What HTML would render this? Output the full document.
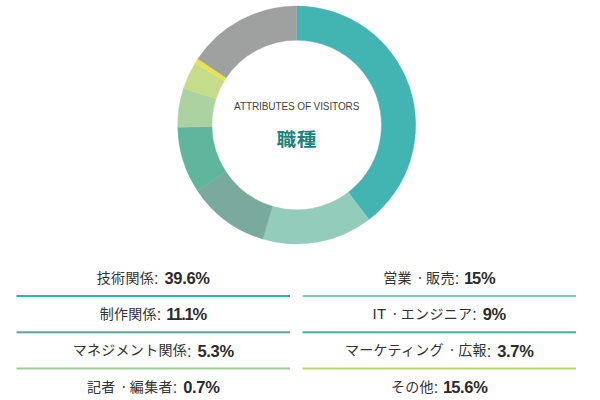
<!DOCTYPE html>
<html lang="ja"><head><meta charset="utf-8">
<style>
html,body{margin:0;padding:0;background:#fff;}
body{width:600px;height:400px;overflow:hidden;position:relative;font-family:"Liberation Sans","Noto Sans CJK JP",sans-serif;}
svg.bg{position:absolute;left:0;top:0;}
.t1{position:absolute;left:0;width:593.4px;top:101px;text-align:center;font-size:10px;color:#444;letter-spacing:-0.1px;}
.t2{position:absolute;left:-0.3px;width:593.4px;top:124px;text-align:center;font-size:19.6px;font-weight:bold;color:#17857e;letter-spacing:0.6px;text-indent:0.6px;transform:scaleY(0.93);transform-origin:50% 50%;}
.col{position:absolute;top:261px;width:273.5px;}
.col.l{left:16.5px;}
.col.r{left:302.5px;}
.row{height:36.45px;text-align:center;font-size:14px;line-height:34px;color:#333;white-space:nowrap;}
.row .n{position:relative;top:-1.5px;letter-spacing:.3px;}
.row .d{position:relative;top:-2px;left:1px;display:inline-block;width:14.3px;text-align:center;font-size:9px;letter-spacing:0;color:#444;}
.row .lt{font-size:15px;position:relative;top:0.5px;}
.row .c{font-size:16px;padding-right:1.5px;}
.row b{color:#2b2b2b;font-size:16.5px;letter-spacing:-0.3px;}
.row b .o{letter-spacing:-1.1px;margin-left:-1.1px;}
</style></head><body>
<svg class="bg" width="600" height="400" viewBox="0 0 600 400">
<path d="M296.70 6.00A119.0 119.0 0 0 1 369.04 219.48L348.25 192.33A84.8 84.8 0 0 0 296.70 40.20Z" fill="#42b4b1" stroke="#42b4b1" stroke-width="0.4"/>
<path d="M369.04 219.48A119.0 119.0 0 0 1 262.78 239.06L272.53 206.28A84.8 84.8 0 0 0 348.25 192.33Z" fill="#94ccbc" stroke="#94ccbc" stroke-width="0.4"/>
<path d="M262.78 239.06A119.0 119.0 0 0 1 197.44 190.65L225.97 171.78A84.8 84.8 0 0 0 272.53 206.28Z" fill="#7aaa9d" stroke="#7aaa9d" stroke-width="0.4"/>
<path d="M197.44 190.65A119.0 119.0 0 0 1 177.72 127.24L211.92 126.60A84.8 84.8 0 0 0 225.97 171.78Z" fill="#60b69c" stroke="#60b69c" stroke-width="0.4"/>
<path d="M177.72 127.24A119.0 119.0 0 0 1 183.52 88.23L216.05 98.80A84.8 84.8 0 0 0 211.92 126.60Z" fill="#acd2a2" stroke="#acd2a2" stroke-width="0.4"/>
<path d="M183.52 88.23A119.0 119.0 0 0 1 195.04 63.14L224.26 80.92A84.8 84.8 0 0 0 216.05 98.80Z" fill="#c5dc8a" stroke="#c5dc8a" stroke-width="0.4"/>
<path d="M195.04 63.14A119.0 119.0 0 0 1 197.86 58.73L226.27 77.78A84.8 84.8 0 0 0 224.26 80.92Z" fill="#e6e450" stroke="#e6e450" stroke-width="0.4"/>
<path d="M197.86 58.73A119.0 119.0 0 0 1 296.70 6.00L296.70 40.20A84.8 84.8 0 0 0 226.27 77.78Z" fill="#9ea1a0" stroke="#9ea1a0" stroke-width="0.4"/>
<rect x="16.5" y="295.0" width="273.5" height="2" fill="#30b2af"/>
<rect x="302.5" y="295.0" width="273.5" height="2" fill="#88cab7"/>
<rect x="16.5" y="331.3" width="273.5" height="2" fill="#62a694"/>
<rect x="302.5" y="331.3" width="273.5" height="2" fill="#45b392"/>
<rect x="16.5" y="367.5" width="273.5" height="2" fill="#9ccd92"/>
<rect x="302.5" y="367.5" width="273.5" height="2" fill="#b9d870"/>
</svg>
<div class="t1">ATTRIBUTES OF VISITORS</div>
<div class="t2">職種</div>
<div class="col l">
<div class="row"><span class="n">技術関係</span><span class="c">: </span><b>39.6%</b></div>
<div class="row"><span class="n">制作関係</span><span class="c">: </span><b><span class="o">1</span><span class="o">1</span>.<span class="o">1</span>%</b></div>
<div class="row"><span class="n">マネジメント関係</span><span class="c">: </span><b>5.3%</b></div>
<div class="row"><span class="n">記者<span class="d">・</span>編集者</span><span class="c">: </span><b>0.7%</b></div>
</div>
<div class="col r">
<div class="row"><span class="n">営業<span class="d">・</span>販売</span><span class="c">: </span><b><span class="o">1</span>5%</b></div>
<div class="row"><span class="n"><span class="lt">IT</span><span class="d">・</span>エンジニア</span><span class="c">: </span><b>9%</b></div>
<div class="row"><span class="n">マーケティング<span class="d">・</span>広報</span><span class="c">: </span><b>3.7%</b></div>
<div class="row"><span class="n">その他</span><span class="c">: </span><b><span class="o">1</span>5.6%</b></div>
</div>
</body></html>
